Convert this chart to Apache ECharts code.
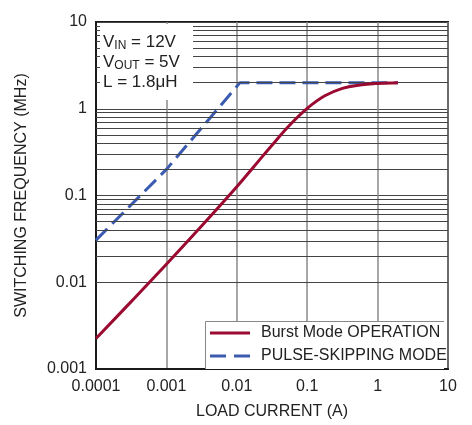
<!DOCTYPE html>
<html><head><meta charset="utf-8">
<script src="https://cdn.jsdelivr.net/npm/echarts@6/dist/echarts.min.js"></script>
<style>html,body{margin:0;padding:0;background:#fff}#c{width:472px;height:425px}</style>
</head><body><div id="c"></div>
<script>
// Data
const burstCurrent = [0.0001, 0.000316, 0.001, 0.00316, 0.01, 0.0178, 0.0316, 0.0562, 0.1, 0.178, 0.316, 0.562, 1.0, 1.95];
const burstFreq    = [0.00225, 0.00598, 0.0161, 0.0444, 0.126, 0.219, 0.38, 0.645, 1.01, 1.41, 1.72, 1.88, 1.96, 2.0];
const pulseCurrent = [0.0001, 0.001, 0.0111, 1.95];
const pulseFreq    = [0.0306, 0.2, 2.0, 2.0];
const xTickLabels = ['0.0001', '0.001', '0.01', '0.1', '1', '10'];
const yTickLabels = ['0.001', '0.01', '0.1', '1', '10'];
const seriesNames = ['Burst Mode OPERATION', 'PULSE-SKIPPING MODE'];

const FONT = '"Liberation Sans Narrow", "Liberation Sans", Arial, sans-serif';
const RED = '#9b0a30', BLUE = '#3a5bb0';
const zip = (xs, ys) => xs.map((x, i) => [x, ys[i]]);
const fmt = (labels) => (v) => {
  const f = labels.find(s => Math.abs(Math.log10(+s) - Math.log10(v)) < 1e-6);
  return f !== undefined ? f : '';
};
// minor horizontal grid lines at 2..9 of each decade
const minorY = [];
[0.001, 0.01, 0.1, 1].forEach(d => { for (let k = 2; k <= 9; k++) minorY.push(+(d * k).toPrecision(3)); });

const chart = echarts.init(document.getElementById('c'), null, {renderer: 'canvas'});
chart.setOption({
  animation: false,
  backgroundColor: '#fff',
  grid: {left: 96, right: 24, top: 22, bottom: 52, show: true, borderColor: '#1a1a1a', borderWidth: 2, backgroundColor: 'transparent'},
  xAxis: {
    type: 'log', logBase: 10, min: 0.0001, max: 10,
    name: 'LOAD CURRENT (A)', nameLocation: 'middle', nameGap: 35,
    nameTextStyle: {fontFamily: FONT, fontSize: 16, color: '#222'},
    axisLine: {show: true, lineStyle: {color: '#1a1a1a', width: 2}},
    axisTick: {show: false},
    axisLabel: {fontFamily: FONT, fontSize: 16, color: '#222', margin: 10, formatter: fmt(xTickLabels)},
    splitLine: {show: true, lineStyle: {color: '#8a8a8a', width: 1.5}}
  },
  yAxis: {
    type: 'log', logBase: 10, min: 0.001, max: 10,
    name: 'SWITCHING FREQUENCY (MHz)', nameLocation: 'middle', nameGap: 66,
    nameTextStyle: {fontFamily: FONT, fontSize: 16, color: '#222'},
    axisLine: {show: true, lineStyle: {color: '#1a1a1a', width: 2}},
    axisTick: {show: false},
    axisLabel: {fontFamily: FONT, fontSize: 16, color: '#222', margin: 9, formatter: fmt(yTickLabels)},
    splitLine: {show: true, lineStyle: {color: '#444', width: 1}}
  },
  legend: {
    orient: 'vertical', left: 205, top: 319, z: 20,
    itemWidth: 40, itemHeight: 3, itemGap: 5,
    textStyle: {fontFamily: FONT, fontSize: 16, color: '#222', lineHeight: 18, padding: [0, 0, 0, 6]},
    data: [
      {name: seriesNames[0], icon: 'rect', itemStyle: {color: RED}},
      {name: seriesNames[1], icon: 'path://M0,0h16v3h-16zM24,0h16v3h-16z', itemStyle: {color: BLUE}}
    ]
  },
  graphic: [
    {type: 'rect', z: 10, shape: {x: 100, y: 24, width: 93, height: 76}, style: {fill: '#fff'}, silent: true},
    {type: 'rect', z: 10, shape: {x: 205, y: 321, width: 239, height: 48}, style: {fill: '#fff'}, silent: true},
    {type: 'polyline', z: 11, shape: {points: [[205.5, 369], [205.5, 321.5], [444, 321.5]]}, style: {stroke: '#888', lineWidth: 1, fill: null}, silent: true},
    {type: 'text', z: 12, x: 103, y: 32, silent: true,
      style: {
        text: '{v|V}{s|IN}{v| = 12V}\n{v|V}{s|OUT}{v| = 5V}\n{v|L = 1.8μH}',
        rich: {
          v: {fontFamily: FONT, fontSize: 17, lineHeight: 20, fill: '#222'},
          s: {fontFamily: FONT, fontSize: 12, lineHeight: 20, fill: '#222', verticalAlign: 'bottom', padding: [6, 0, 0, 0]}
        }
      }
    }
  ],
  series: [
    {
      type: 'line', name: '_grid', data: [], z: 1, silent: true,
      markLine: {silent: true, symbol: ['none', 'none'], label: {show: false}, animation: false,
        lineStyle: {color: '#444', width: 1, type: 'solid'},
        data: minorY.map(v => ({yAxis: v}))}
    },
    {
      type: 'line', name: seriesNames[0], data: zip(burstCurrent, burstFreq), z: 5,
      showSymbol: false, symbol: 'none', smooth: 0.4,
      lineStyle: {color: RED, width: 3}, itemStyle: {color: RED}
    },
    {
      type: 'line', name: seriesNames[1], data: zip(pulseCurrent, pulseFreq), z: 4,
      showSymbol: false, symbol: 'none',
      lineStyle: {color: BLUE, width: 3, type: [16, 7]}, itemStyle: {color: BLUE}
    }
  ]
});
</script>
</body></html>
